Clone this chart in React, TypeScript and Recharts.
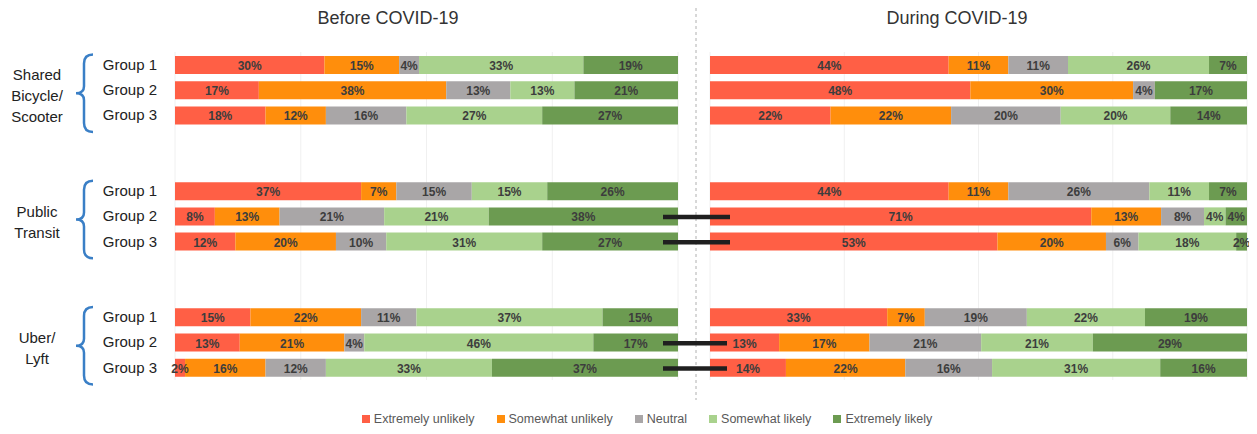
import React from 'react';
import { BarChart, Bar, XAxis, YAxis, CartesianGrid, LabelList } from 'recharts';

const groupNames = ['Group 1', 'Group 2', 'Group 3'];
const modeLines = [['Shared', 'Bicycle/', 'Scooter'], ['Public', 'Transit'], ['Uber/', 'Lyft']];
const responses = ['Extremely unlikely', 'Somewhat unlikely', 'Neutral', 'Somewhat likely', 'Extremely likely'];
const responseColors = ['#FF5F45', '#FF8E0C', '#A9A6A7', '#A9D28D', '#6C9B51'];

// rows: shared G1-G3, transit G1-G3, uber G1-G3
const extremelyUnlikelyBefore = [30, 17, 18, 37, 8, 12, 15, 13, 2];
const somewhatUnlikelyBefore = [15, 38, 12, 7, 13, 20, 22, 21, 16];
const neutralBefore = [4, 13, 16, 15, 21, 10, 11, 4, 12];
const somewhatLikelyBefore = [33, 13, 27, 15, 21, 31, 37, 46, 33];
const extremelyLikelyBefore = [19, 21, 27, 26, 38, 27, 15, 17, 37];

const extremelyUnlikelyDuring = [44, 48, 22, 44, 71, 53, 33, 13, 14];
const somewhatUnlikelyDuring = [11, 30, 22, 11, 13, 20, 7, 17, 22];
const neutralDuring = [11, 4, 20, 26, 8, 6, 19, 21, 16];
const somewhatLikelyDuring = [26, 0, 20, 11, 4, 18, 22, 21, 31];
const extremelyLikelyDuring = [7, 17, 14, 7, 4, 2, 19, 29, 16];

const before = [extremelyUnlikelyBefore, somewhatUnlikelyBefore, neutralBefore, somewhatLikelyBefore, extremelyLikelyBefore];
const during = [extremelyUnlikelyDuring, somewhatUnlikelyDuring, neutralDuring, somewhatLikelyDuring, extremelyLikelyDuring];

const PLOT_TOP = 52;
const PLOT_H = 328;
const CHART_H = 400;
const ROWS = 13;
const BAND = PLOT_H / ROWS;
const rowCenter = (i: number) => PLOT_TOP + (i + 0.5) * BAND;

function buildRows(series: number[][]) {
  const rows: any[] = [];
  modeLines.forEach((_, m) => {
    groupNames.forEach((g, gi) => {
      const row: any = { key: `m${m}g${gi}`, name: g };
      series.forEach((vals, si) => { row[`r${si}`] = vals[m * 3 + gi]; });
      rows.push(row);
    });
    if (m < modeLines.length - 1) {
      rows.push({ key: `gap${m}a`, name: '' });
      rows.push({ key: `gap${m}b`, name: '' });
    }
  });
  return rows;
}

const beforeRows = buildRows(before);
const duringRows = buildRows(during);
const nameByKey: Record<string, string> = {};
beforeRows.forEach(r => { nameByKey[r.key] = r.name; });

const renderLabel = (props: any) => {
  const { x, y, width, height, value } = props;
  if (value === undefined || value === null) return null;
  return (
    <text
      x={x + width / 2}
      y={y + height / 2 + 1}
      textAnchor="middle"
      dominantBaseline="central"
      fontSize={12}
      fontWeight="bold"
      fill="#3d3d3d"
      fontFamily="Liberation Sans, Arial, sans-serif"
    >
      {value}%
    </text>
  );
};

function Panel({ rows, width, left, right, showAxis }: { rows: any[]; width: number; left: number; right: number; showAxis: boolean }) {
  return (
    <BarChart
      width={width}
      height={CHART_H}
      data={rows}
      layout="vertical"
      stackOffset="expand"
      barSize={18}
      margin={{ top: PLOT_TOP, right, bottom: CHART_H - PLOT_TOP - PLOT_H, left: showAxis ? 0 : left }}
    >
      <CartesianGrid horizontal={false} stroke="#f0f0f0" />
      <XAxis type="number" domain={[0, 1]} ticks={[0, 0.25, 0.5, 0.75, 1]} hide />
      <YAxis
        type="category"
        dataKey="key"
        width={showAxis ? left : 0}
        hide={!showAxis}
        axisLine={false}
        tickLine={false}
        tickSize={0}
        tickMargin={18}
        interval={0}
        tickFormatter={(v: string) => nameByKey[v] || ''}
        tick={{ fontSize: 15, fill: '#222', fontFamily: 'Liberation Sans, Arial, sans-serif' }}
      />
      {responses.map((r, i) => (
        <Bar key={r} dataKey={`r${i}`} name={r} stackId="a" fill={responseColors[i]} isAnimationActive={false}>
          <LabelList dataKey={`r${i}`} content={renderLabel} />
        </Bar>
      ))}
    </BarChart>
  );
}

function brace(top: number, bottom: number) {
  const mid = (top + bottom) / 2;
  const xr = 93, xm = 84, xt = 76;
  return `M ${xr} ${top} Q ${xm} ${top} ${xm} ${top + 9} L ${xm} ${mid - 7} Q ${xm} ${mid} ${xt} ${mid} Q ${xm} ${mid} ${xm} ${mid + 7} L ${xm} ${bottom - 9} Q ${xm} ${bottom} ${xr} ${bottom}`;
}

// connector bars drawn between the two panels (row index in the 13-row layout)
const connectorRows = [6, 7, 11, 12];
const connectorEnds = [730, 730, 727, 727];

export default function App() {
  return (
    <div style={{ position: 'relative', width: 1257, height: 434, margin: -8, background: '#fff', fontFamily: 'Liberation Sans, Arial, sans-serif' }}>
      <div style={{ position: 'absolute', left: 0, top: 0 }}>
        <Panel rows={beforeRows} width={690} left={175} right={12} showAxis />
      </div>
      <div style={{ position: 'absolute', left: 700, top: 0 }}>
        <Panel rows={duringRows} width={557} left={10} right={10} showAxis={false} />
      </div>

      <div style={{ position: 'absolute', left: 288, width: 200, top: 8, textAlign: 'center', fontSize: 18, color: '#333' }}>Before COVID-19</div>
      <div style={{ position: 'absolute', left: 857, width: 200, top: 8, textAlign: 'center', fontSize: 18, color: '#333' }}>During COVID-19</div>

      <svg width={1257} height={434} style={{ position: 'absolute', left: 0, top: 0, pointerEvents: 'none' }}>
        <line x1={696} y1={2} x2={696} y2={400} stroke="#b0b0b0" strokeWidth={1} strokeDasharray="3 3" />
        {modeLines.map((lines, m) => {
          const first = rowCenter(m * 5);
          const last = rowCenter(m * 5 + 2);
          const c = (first + last) / 2 + 6;
          return (
            <g key={m}>
              <path d={brace(first - 10, last + 17)} fill="none" stroke="#3A7FC6" strokeWidth={2.5} />
              {lines.map((t, li) => (
                <text
                  key={t}
                  x={37}
                  y={c + (li - (lines.length - 1) / 2) * 21}
                  textAnchor="middle"
                  dominantBaseline="central"
                  fontSize={15}
                  fill="#222"
                >
                  {t}
                </text>
              ))}
            </g>
          );
        })}
        {connectorRows.map((r, i) => (
          <line key={r} x1={663} y1={rowCenter(r) + 1} x2={connectorEnds[i]} y2={rowCenter(r) + 1} stroke="#1f1f1f" strokeWidth={4.5} />
        ))}
      </svg>

      <div style={{ position: 'absolute', left: 347, width: 600, top: 412, display: 'flex', justifyContent: 'center', gap: 22, fontSize: 12.5, color: '#595959' }}>
        {responses.map((r, i) => (
          <div key={r} style={{ display: 'flex', alignItems: 'center', gap: 4 }}>
            <span style={{ width: 8, height: 8, background: responseColors[i], display: 'inline-block' }} />
            <span>{r}</span>
          </div>
        ))}
      </div>
    </div>
  );
}
